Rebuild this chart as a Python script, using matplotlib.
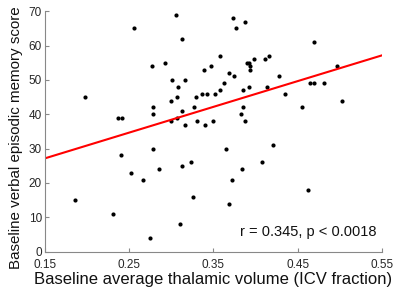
import numpy as np
import matplotlib
matplotlib.use("Agg")
import matplotlib.pyplot as plt

# thalamic volume (ICV fraction) and verbal episodic memory score
thal_vol = [0.306, 0.256, 0.313, 0.277, 0.292, 0.339, 0.347, 0.358, 0.301, 0.316,
            0.308, 0.198, 0.300, 0.307, 0.329, 0.336, 0.343, 0.352, 0.358, 0.278,
            0.278, 0.313, 0.327, 0.237, 0.241, 0.307, 0.300, 0.316, 0.330, 0.340,
            0.350, 0.373, 0.387, 0.377, 0.390, 0.392, 0.393, 0.394, 0.398, 0.411,
            0.416, 0.368, 0.374, 0.363, 0.385, 0.392, 0.413, 0.469, 0.428, 0.497,
            0.435, 0.465, 0.469, 0.481, 0.503, 0.455, 0.385, 0.383, 0.388, 0.278,
            0.365, 0.286, 0.313, 0.324, 0.384, 0.408, 0.240, 0.252, 0.266, 0.186,
            0.231, 0.326, 0.310, 0.275, 0.421, 0.372, 0.462, 0.368]
memory = [69, 65, 62, 54, 55, 53, 54, 57, 50, 50,
          48, 45, 44, 45, 45, 46, 46, 46, 47, 42,
          40, 41, 42, 39, 39, 39, 38, 37, 38, 37,
          38, 68, 67, 65, 55, 55, 54, 53, 56, 56,
          57, 52, 51, 49, 47, 48, 48, 61, 51, 54,
          46, 49, 49, 49, 44, 42, 42, 40, 38, 30,
          30, 24, 25, 26, 24, 26, 28, 23, 21, 15,
          11, 16, 8, 4, 31, 21, 18, 14]

# regression line as drawn in the figure
fit_slope = 75.0
fit_intercept = 15.9

x_ticks = [0.15, 0.25, 0.35, 0.45, 0.55]
x_ticklabels = ["0.15", "0.25", "0.35", "0.45", "0.55"]
y_ticks = [0, 10, 20, 30, 40, 50, 60, 70]
stats_text = "r = 0.345, p < 0.0018"

plt.rcParams['font.family'] = ['Liberation Sans', 'DejaVu Sans']

fig = plt.figure(figsize=(4.0, 2.95), dpi=100)
ax = fig.add_axes([0.112, 0.147, 0.843, 0.815])

ax.plot(thal_vol, memory, 'o', color='black', markersize=3.0, markeredgewidth=0)

xl = np.array([0.15, 0.55])
ax.plot(xl, fit_slope * xl + fit_intercept, color='red', linewidth=1.5)

ax.set_xlim(0.15, 0.55)
ax.set_ylim(0, 70)
ax.set_xticks(x_ticks)
ax.set_xticklabels(x_ticklabels)
ax.set_yticks(y_ticks)

for side in ['top', 'right']:
    ax.spines[side].set_visible(False)
for side in ['left', 'bottom']:
    ax.spines[side].set_color('#888888')
    ax.spines[side].set_linewidth(0.8)
ax.tick_params(direction='in', length=3, color='#888888', labelsize=8.5,
               labelcolor='#262626')
ax.tick_params(axis='x', pad=5)
ax.tick_params(axis='y', pad=2)

ax.set_xlabel("Baseline average thalamic volume (ICV fraction)", fontsize=12,
              color='#111111', labelpad=1)
ax.set_ylabel("Baseline verbal episodic memory score", fontsize=10.9,
              color='#111111', labelpad=4)
ax.yaxis.label.set_y(0.475)

ax.text(0.543, 5.6, stats_text, fontsize=10.5, ha='right', va='center', color='#111111')

fig.savefig("out.png", dpi=100)
